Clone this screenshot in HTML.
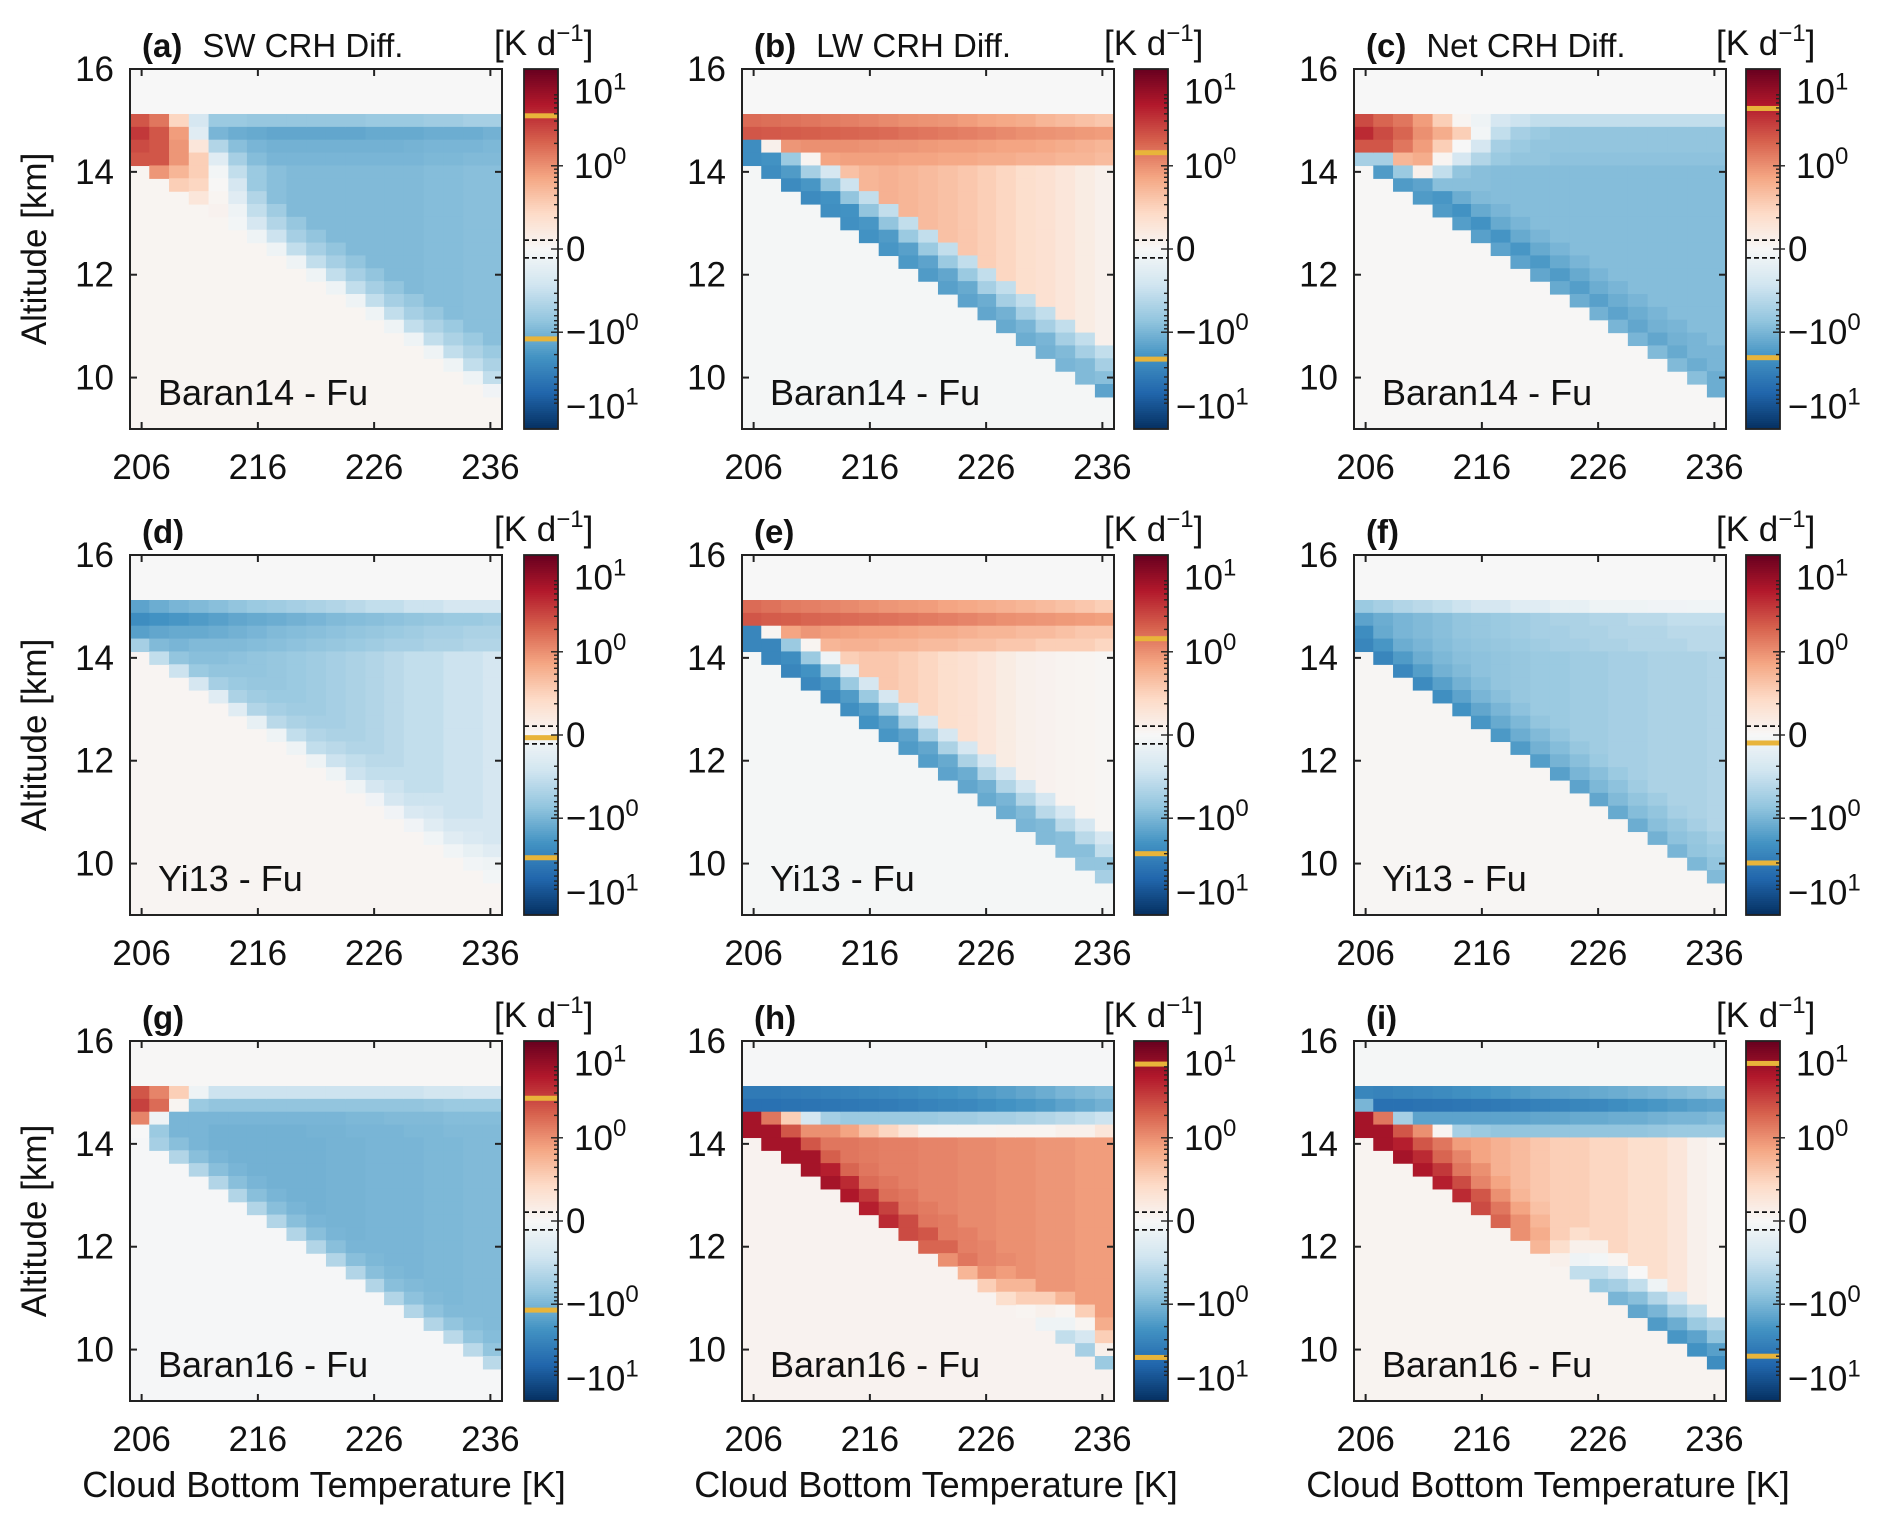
<!DOCTYPE html>
<html><head><meta charset="utf-8"><style>
html,body{margin:0;padding:0;background:#fff;}
svg{display:block;font-family:"Liberation Sans",Arial,sans-serif;}
</style></head><body>
<svg id="fig" width="1892" height="1524" viewBox="0 0 1892 1524" xmlns="http://www.w3.org/2000/svg"></svg>
<script>
// ---- data ----
const temps = [205.8,207.5,209.2,210.9,212.6,214.3,215.9,217.6,219.3,221.0,222.7,224.4,226.1,227.7,229.4,231.1,232.8,234.5,236.2];
const cloudBaseAlt = [14.125,13.875,13.625,13.375,13.125,12.875,12.625,12.375,12.125,11.875,11.625,11.375,11.125,10.875,10.625,10.375,10.125,9.875,9.625];
const cloudTopAlt = 15.125;
const rowDepth = 0.25;
const xTicks = [206,216,226,236];
const yTicks = [10,12,14,16];
const panelIds = ['a','b','c','d','e','f','g','h','i'];
const panelTitles = ['SW CRH Diff.','LW CRH Diff.','Net CRH Diff.','','','','','',''];
const schemeLabels = ['Baran14 - Fu','Yi13 - Fu','Baran16 - Fu'];
const aboveVals = [0.0,0.0,0.0,0.0,0.0,0.0,0.02,-0.02,-0.03];
const belowVals = [0.05,-0.03,0.02,0.04,-0.03,0.03,-0.02,0.07,0.06];
const markMax = [4.7,1.5,5.9,-0.03,1.5,-0.09,3.4,9.8,10];
const markMin = [-1.23,-2.3,-2.2,-3.4,-3.0,-4.0,-1.2,-5.2,-5.0];

const a_r0=[2.5,1.5,0.25,-0.2,-0.6,-0.6,-0.65,-0.65,-0.65,-0.65,-0.65,-0.65,-0.6,-0.6,-0.6,-0.55,-0.55,-0.5,-0.5];
const a_r1=[4,2.5,0.8,-0.15,-1.0,-1.2,-1.3,-1.4,-1.4,-1.4,-1.4,-1.4,-1.3,-1.3,-1.3,-1.2,-1.2,-1.2,-1.1];
const a_r2=[0,0,0,0.15,-0.4,-0.8,-1.0,-1.1,-1.1,-1.1,-1.1,-1.1,-1.1,-1.1,-1.05,-1.0,-1.0,-1.0,-0.95];
const a_r3=[0,0,0,0,-0.15,-0.5,-0.85,-1.0,-1.0,-1.0,-1.0,-1.0,-1.0,-1.0,-1.0,-0.95,-0.95,-0.9,-0.9];
const a_in=[0,0,0,0,0,-0.3,-0.6,-0.8,-0.9,-0.9,-0.9,-0.9,-0.9,-0.9,-0.9,-0.85,-0.85,-0.8,-0.8];
const a_e4=[0,0,0.9,0.3,-0.05,-0.2,-0.4,-0.55,-0.65,-0.7,-0.7,-0.7,-0.7,-0.7,-0.65,-0.65,-0.6,-0.6,-0.6];
const a_e3=[0,2.5,0.9,0.3,0.02,-0.15,-0.3,-0.4,-0.5,-0.5,-0.5,-0.5,-0.5,-0.5,-0.5,-0.45,-0.45,-0.45,-0.45];
const a_e2=[3,2.5,0.5,0.25,0.05,-0.1,-0.2,-0.25,-0.3,-0.3,-0.3,-0.3,-0.3,-0.3,-0.3,-0.3,-0.3,-0.3,-0.3];
const a_e=[2.5,0.9,0.3,0.15,0.08,-0.05,-0.1,-0.1,-0.1,-0.1,-0.1,-0.1,-0.1,-0.1,-0.1,-0.1,-0.1,-0.1,-0.08];

const b_r0=[1.8,1.7,1.6,1.5,1.4,1.3,1.2,1.1,1.0,0.95,0.9,0.8,0.7,0.65,0.6,0.5,0.45,0.4,0.35];
const b_r1=[2.5,2.4,2.3,2.2,2.1,2.0,1.9,1.8,1.6,1.5,1.4,1.3,1.2,1.1,1.0,0.95,0.9,0.85,0.8];
const b_r2=[0,0,0,1.0,1.0,1.0,0.95,0.9,0.9,0.85,0.8,0.8,0.75,0.7,0.7,0.65,0.6,0.55,0.5];
const b_r3=[0,0,0,0,0.7,0.75,0.75,0.75,0.7,0.7,0.65,0.65,0.6,0.6,0.55,0.55,0.5,0.5,0.45];
const b_in=[0,0,0,0,0,0.4,0.5,0.55,0.5,0.45,0.4,0.35,0.3,0.25,0.2,0.18,0.15,0.12,0.1];
const b_e4=[0,0,0.9,0.05,-0.2,-0.25,-0.3,-0.3,-0.3,-0.3,-0.3,-0.3,-0.3,-0.3,-0.3,-0.3,-0.3,-0.3,-0.3];
const b_e3=[0,0.1,-0.6,-0.5,-0.7,-0.7,-0.7,-0.7,-0.6,-0.6,-0.6,-0.6,-0.5,-0.5,-0.5,-0.5,-0.5,-0.5,-0.5];
const b_e2=[-2.5,-2.2,-1.8,-2.0,-2.2,-2.2,-2.0,-1.8,-1.6,-1.5,-1.4,-1.3,-1.2,-1.1,-1.0,-1.0,-0.9,-0.9,-0.8];
const b_e=[-2.5,-2.5,-2.6,-2.6,-2.4,-2.3,-2.2,-2.0,-1.9,-1.8,-1.6,-1.5,-1.4,-1.3,-1.2,-1.1,-1.0,-0.9,-1.5];

const c_r0=[3,2,1.5,0.8,0.3,0.05,-0.1,-0.2,-0.25,-0.3,-0.3,-0.3,-0.3,-0.3,-0.3,-0.3,-0.3,-0.3,-0.3];
const c_r1=[5,3,2,1,0.6,0.3,-0.05,-0.3,-0.5,-0.6,-0.7,-0.7,-0.7,-0.7,-0.7,-0.7,-0.7,-0.7,-0.7];
const c_r2=[0,0,0,0.8,0.3,0.0,-0.2,-0.5,-0.6,-0.7,-0.7,-0.7,-0.7,-0.7,-0.7,-0.7,-0.7,-0.7,-0.7];
const c_r3=[0,0,0,0,0.05,-0.2,-0.4,-0.6,-0.7,-0.7,-0.75,-0.75,-0.75,-0.75,-0.75,-0.75,-0.75,-0.75,-0.75];
const c_in=[0,0,0,0,0,-0.7,-0.8,-0.85,-0.85,-0.85,-0.85,-0.85,-0.85,-0.85,-0.85,-0.85,-0.85,-0.85,-0.85];
const c_e4=[0,0,1.5,0.6,-0.3,-0.8,-0.9,-1.0,-1.0,-1.0,-1.0,-1.0,-1.0,-1.0,-1.0,-1.0,-1.0,-1.0,-1.0];
const c_e3=[0,2.5,0.5,0.1,-0.8,-1.2,-1.3,-1.3,-1.3,-1.3,-1.3,-1.3,-1.2,-1.2,-1.2,-1.1,-1.1,-1.0,-1.0];
const c_e2=[2.5,-0.5,-0.6,-1.5,-2.0,-2.2,-2.2,-2.1,-2.0,-1.9,-1.8,-1.7,-1.6,-1.5,-1.4,-1.4,-1.3,-1.2,-1.2];
const c_e=[-0.5,-1.8,-1.8,-1.8,-1.8,-1.7,-1.6,-1.5,-1.5,-1.4,-1.3,-1.2,-1.1,-1.0,-1.0,-0.9,-0.9,-0.8,-1.2];

const d_r0=[-1.5,-1.2,-1.0,-0.9,-0.8,-0.7,-0.6,-0.55,-0.5,-0.45,-0.4,-0.35,-0.3,-0.3,-0.25,-0.25,-0.2,-0.2,-0.2];
const d_r1=[-2.5,-2.2,-2.0,-1.8,-1.6,-1.4,-1.3,-1.2,-1.1,-1.0,-0.9,-0.85,-0.8,-0.75,-0.7,-0.65,-0.6,-0.6,-0.55];
const d_r2=[0,0,0,-1.3,-1.2,-1.1,-1.0,-0.9,-0.85,-0.8,-0.75,-0.7,-0.65,-0.6,-0.55,-0.5,-0.5,-0.45,-0.45];
const d_r3=[0,0,0,0,-0.9,-0.9,-0.85,-0.8,-0.75,-0.7,-0.65,-0.6,-0.55,-0.5,-0.5,-0.45,-0.45,-0.4,-0.4];
const d_in=[0,0,0,0,0,-0.75,-0.7,-0.65,-0.6,-0.55,-0.5,-0.45,-0.4,-0.35,-0.3,-0.3,-0.25,-0.25,-0.2];
const d_e4=[0,0,-1.3,-0.9,-0.8,-0.7,-0.65,-0.6,-0.55,-0.5,-0.45,-0.4,-0.35,-0.3,-0.3,-0.25,-0.25,-0.2,-0.2];
const d_e3=[0,-1.4,-1.0,-0.8,-0.7,-0.6,-0.55,-0.5,-0.45,-0.4,-0.35,-0.3,-0.3,-0.25,-0.25,-0.2,-0.2,-0.18,-0.15];
const d_e2=[-1.6,-0.9,-0.7,-0.6,-0.5,-0.45,-0.4,-0.35,-0.3,-0.3,-0.25,-0.25,-0.2,-0.2,-0.18,-0.15,-0.15,-0.12,-0.1];
const d_e=[-0.5,-0.3,-0.25,-0.2,-0.15,-0.15,-0.12,-0.1,-0.1,-0.1,-0.1,-0.1,-0.08,-0.08,-0.08,-0.07,-0.07,-0.06,-0.05];

const e_r0=[1.8,1.6,1.4,1.3,1.2,1.1,1.0,0.9,0.85,0.8,0.7,0.65,0.6,0.55,0.5,0.45,0.4,0.35,0.3];
const e_r1=[2.5,2.3,2.2,2.0,1.9,1.8,1.7,1.6,1.5,1.4,1.3,1.2,1.1,1.0,0.95,0.9,0.85,0.8,0.75];
const e_r2=[0,0,0,0.9,0.8,0.75,0.7,0.7,0.65,0.6,0.6,0.55,0.5,0.5,0.45,0.45,0.4,0.35,0.35];
const e_r3=[0,0,0,0,0.5,0.55,0.55,0.5,0.5,0.45,0.45,0.4,0.4,0.35,0.35,0.3,0.3,0.3,0.25];
const e_in=[0,0,0,0,0,0.3,0.35,0.35,0.3,0.25,0.2,0.18,0.15,0.12,0.1,0.08,0.06,0.05,0.03];
const e_e4=[0,0,0.7,0.05,-0.1,-0.15,-0.2,-0.2,-0.2,-0.2,-0.2,-0.2,-0.2,-0.2,-0.2,-0.2,-0.2,-0.2,-0.2];
const e_e3=[0,0.05,-0.6,-0.6,-0.6,-0.6,-0.6,-0.55,-0.5,-0.5,-0.45,-0.45,-0.4,-0.4,-0.4,-0.35,-0.35,-0.35,-0.3];
const e_e2=[-3,-3,-2.5,-2.2,-2.0,-1.8,-1.7,-1.6,-1.5,-1.4,-1.3,-1.2,-1.1,-1.0,-0.9,-0.9,-0.8,-0.8,-0.7];
const e_e=[-3,-3,-3,-2.8,-2.6,-2.4,-2.2,-2.0,-1.8,-1.7,-1.5,-1.4,-1.3,-1.2,-1.0,-0.9,-0.8,-0.7,-0.5];

const f_r0=[-0.6,-0.5,-0.4,-0.35,-0.3,-0.25,-0.2,-0.2,-0.15,-0.15,-0.12,-0.12,-0.1,-0.1,-0.1,-0.08,-0.08,-0.07,-0.07];
const f_r1=[-1.5,-1.2,-1.0,-0.9,-0.8,-0.7,-0.65,-0.6,-0.55,-0.5,-0.45,-0.45,-0.4,-0.4,-0.35,-0.35,-0.3,-0.3,-0.3];
const f_r2=[0,0,0,-0.9,-0.8,-0.7,-0.65,-0.6,-0.55,-0.5,-0.5,-0.45,-0.45,-0.4,-0.4,-0.4,-0.35,-0.35,-0.35];
const f_r3=[0,0,0,0,-0.85,-0.75,-0.7,-0.65,-0.6,-0.55,-0.5,-0.5,-0.45,-0.45,-0.4,-0.4,-0.4,-0.35,-0.35];
const f_in=[0,0,0,0,0,-0.8,-0.75,-0.7,-0.65,-0.6,-0.6,-0.55,-0.55,-0.5,-0.5,-0.45,-0.45,-0.45,-0.4];
const f_e4=[0,0,-1.0,-1.0,-0.95,-0.9,-0.85,-0.8,-0.75,-0.7,-0.7,-0.65,-0.6,-0.6,-0.55,-0.55,-0.5,-0.5,-0.5];
const f_e3=[0,-1.3,-1.2,-1.2,-1.1,-1.1,-1.0,-1.0,-0.95,-0.9,-0.85,-0.8,-0.8,-0.75,-0.7,-0.7,-0.65,-0.65,-0.6];
const f_e2=[-2.5,-2.0,-1.8,-1.7,-1.6,-1.5,-1.4,-1.3,-1.2,-1.1,-1.05,-1.0,-0.95,-0.9,-0.85,-0.8,-0.75,-0.7,-0.7];
const f_e=[-3,-3,-2.8,-2.6,-2.4,-2.2,-2.0,-1.9,-1.8,-1.7,-1.6,-1.5,-1.4,-1.3,-1.2,-1.1,-1.0,-0.95,-0.9];

const g_r0=[2.5,1.2,0.3,-0.1,-0.25,-0.25,-0.25,-0.25,-0.25,-0.25,-0.25,-0.25,-0.25,-0.25,-0.25,-0.22,-0.22,-0.2,-0.2];
const g_r1=[3.5,1.8,0.05,-0.6,-0.7,-0.7,-0.7,-0.7,-0.7,-0.7,-0.7,-0.7,-0.7,-0.7,-0.7,-0.65,-0.6,-0.6,-0.6];
const g_r2=[0,0,0,-1.0,-1.0,-1.0,-1.0,-1.0,-1.0,-1.0,-1.0,-0.95,-0.95,-0.9,-0.9,-0.9,-0.85,-0.85,-0.85];
const g_r3=[0,0,0,0,-1.1,-1.1,-1.1,-1.1,-1.1,-1.05,-1.05,-1.0,-1.0,-1.0,-0.95,-0.95,-0.9,-0.9,-0.9];
const g_in=[0,0,0,0,0,-1.1,-1.1,-1.1,-1.1,-1.1,-1.05,-1.05,-1.0,-1.0,-1.0,-0.95,-0.95,-0.9,-0.9];
const g_e4=[0,0,-1.0,-1.0,-1.1,-1.1,-1.1,-1.1,-1.1,-1.1,-1.05,-1.05,-1.0,-1.0,-1.0,-0.95,-0.95,-0.9,-0.9];
const g_e3=[0,-0.1,-1.0,-1.0,-1.0,-1.0,-1.0,-1.0,-1.0,-1.0,-1.0,-1.0,-0.95,-0.95,-0.9,-0.9,-0.9,-0.85,-0.85];
const g_e2=[1.2,-0.6,-0.8,-0.8,-0.8,-0.8,-0.8,-0.8,-0.8,-0.8,-0.8,-0.8,-0.8,-0.8,-0.75,-0.75,-0.7,-0.7,-0.7];
const g_e=[0.0,-0.5,-0.4,-0.4,-0.4,-0.4,-0.4,-0.4,-0.4,-0.4,-0.4,-0.4,-0.4,-0.4,-0.4,-0.4,-0.35,-0.35,-0.35];

const h_r0=[-4,-4,-3.8,-3.6,-3.4,-3.2,-3,-2.8,-2.6,-2.4,-2.2,-2,-1.8,-1.6,-1.4,-1.2,-1,-0.9,-0.8];
const h_r1=[-5,-5,-4.8,-4.6,-4.4,-4.2,-4,-3.8,-3.5,-3.2,-3,-2.8,-2.5,-2.2,-2,-1.8,-1.5,-1.3,-1.1];
const h_r2=[0,0,0,-0.2,-0.5,-0.6,-0.6,-0.6,-0.6,-0.6,-0.55,-0.55,-0.5,-0.5,-0.45,-0.4,-0.35,-0.3,-0.25];
const h_r3=[0,0,0,0,1.0,0.7,0.4,0.25,0.15,0.05,0.03,0.03,0.03,0.05,0.05,0.05,0.1,0.1,0.15];
const h_in=[0,0,0,0,0,1.5,1.4,1.3,1.3,1.2,1.2,1.1,1.1,1.0,1.0,0.9,0.9,0.8,0.8];
const h_e4=[0,0,0.3,1.0,1.5,1.5,1.5,1.5,1.5,1.4,1.4,1.3,1.2,1.1,1.0,0.9,0.5,0.3,0.6];
const h_e3=[0,1.5,2.5,2.5,2.2,2.0,1.8,1.7,1.6,1.5,1.4,1.3,1.2,0.8,0.5,0.3,0.05,0.05,0.3];
const h_e2=[8,8,8,8,6,5,4,3.5,3,2.5,2,1.5,1.0,0.5,0.3,0.1,-0.1,-0.2,0.1];
const h_e=[8,8,8,8,8,7,6,5,3,2,1,0.5,0.3,0.2,0.05,-0.1,-0.3,-0.5,-0.6];

const i_r0=[-3,-3.2,-3,-2.8,-2.6,-2.4,-2.2,-2.0,-1.8,-1.6,-1.5,-1.4,-1.3,-1.2,-1.1,-1.0,-0.9,-0.8,-0.7];
const i_r1=[-1.0,-5,-5,-4.8,-4.6,-4.4,-4.2,-4,-3.7,-3.4,-3.2,-3,-2.8,-2.5,-2.2,-2,-1.8,-1.6,-1.5];
const i_r2=[0,0,0,-1.5,-1.5,-1.5,-1.5,-1.5,-1.5,-1.4,-1.4,-1.3,-1.3,-1.2,-1.2,-1.1,-1.0,-1.0,-0.9];
const i_r3=[0,0,0,0,0.05,-0.5,-0.6,-0.7,-0.7,-0.7,-0.7,-0.7,-0.7,-0.7,-0.7,-0.65,-0.6,-0.6,-0.6];
const i_in=[0,0,0,0,0,0.8,0.7,0.55,0.45,0.35,0.3,0.3,0.25,0.25,0.2,0.2,0.15,0.1,0.05];
const i_e4=[0,0,-0.5,1.0,1.5,1.2,1.0,0.7,0.5,0.4,0.3,0.2,0.1,0.05,0.0,-0.1,-0.2,-0.3,-0.4];
const i_e3=[0,1.5,2.5,2.5,2.0,1.5,1.2,1.0,0.7,0.5,0.3,0.1,-0.05,-0.2,-0.3,-0.4,-0.5,-0.6,-0.7];
const i_e2=[8,8,6,5,4,3,2.5,1.5,1.0,0.6,0.2,-0.1,-0.3,-0.5,-0.8,-1.0,-1.2,-1.5,-1.6];
const i_e=[8,8,8,7,6,5,3,2,1,0.5,0.1,-0.3,-0.6,-1.0,-1.4,-1.8,-2.0,-2.2,-2.5];

const panelData = [
 [a_r0,a_r1,a_r2,a_r3,a_in,a_e4,a_e3,a_e2,a_e],
 [b_r0,b_r1,b_r2,b_r3,b_in,b_e4,b_e3,b_e2,b_e],
 [c_r0,c_r1,c_r2,c_r3,c_in,c_e4,c_e3,c_e2,c_e],
 [d_r0,d_r1,d_r2,d_r3,d_in,d_e4,d_e3,d_e2,d_e],
 [e_r0,e_r1,e_r2,e_r3,e_in,e_e4,e_e3,e_e2,e_e],
 [f_r0,f_r1,f_r2,f_r3,f_in,f_e4,f_e3,f_e2,f_e],
 [g_r0,g_r1,g_r2,g_r3,g_in,g_e4,g_e3,g_e2,g_e],
 [h_r0,h_r1,h_r2,h_r3,h_in,h_e4,h_e3,h_e2,h_e],
 [i_r0,i_r1,i_r2,i_r3,i_in,i_e4,i_e3,i_e2,i_e]
];

// ---- rendering ----
const NS='http://www.w3.org/2000/svg';
const svg=document.getElementById('fig');
function mk(tag,attrs,parent){const el=document.createElementNS(NS,tag);for(const k in attrs)el.setAttribute(k,attrs[k]);(parent||svg).appendChild(el);return el;}
const stops=['#053061','#2166ac','#4393c3','#92c5de','#d1e5f0','#f7f7f7','#fddbc7','#f4a582','#d6604d','#b2182b','#67001f'].map(h=>[parseInt(h.slice(1,3),16),parseInt(h.slice(3,5),16),parseInt(h.slice(5,7),16)]);
function cmap(t){t=Math.max(0,Math.min(1,t));const p=t*10;const i=Math.min(9,Math.floor(p));const f=p-i;const a=stops[i],b=stops[i+1];
 return 'rgb('+[0,1,2].map(k=>Math.round(a[k]+(b[k]-a[k])*f)).join(',')+')';}
function symlog(v){const a=Math.abs(v);const s=a<=0.1?a/0.1*7.5:7.5+63*Math.log10(a/0.1);return Math.sign(v)*s;}
function norm(v){return 0.5+symlog(v)/305;}

const PW=372,PH=360,CBW=34;
const colL=[130,742,1354], cbL=[524,1134,1746], rowT=[69,555,1041];
const X0=205,X1=237,Y0=9,Y1=16;
const cellW=(X1-X0)/temps.length;
const FS=35;

panelIds.forEach((pid,p)=>{
 const col=p%3,row=Math.floor(p/3);
 const L=colL[col],T=rowT[row],CB=cbL[col];
 const xs=t=>L+(t-X0)/(X1-X0)*PW;
 const ys=z=>T+(Y1-z)/(Y1-Y0)*PH;
 const g=mk('g',{});
 
 
 const bg=mk('rect',{x:L,y:T,width:PW,height:PH,fill:cmap(norm(belowVals[p]))},g);
 
 
 const ab=mk('rect',{x:L,y:T,width:PW,height:ys(cloudTopAlt)-T,fill:cmap(norm(aboveVals[p]))},g);
 
 
 const D=panelData[p];
 temps.forEach((tc,ci)=>{
  const n=Math.round((cloudTopAlt-cloudBaseAlt[ci])/rowDepth);
  for(let j=0;j<n;j++){
   let v;
   if(j===0)v=D[0][ci];else if(j===1)v=D[1][ci];
   else if(j===n-1)v=D[8][ci];else if(j===n-2)v=D[7][ci];
   else if(j===n-3)v=D[6][ci];else if(j===n-4)v=D[5][ci];
   else if(j===2)v=D[2][ci];else if(j===3)v=D[3][ci];else v=D[4][ci];
   const zt=cloudTopAlt-j*rowDepth;
   const x0=xs(tc-cellW/2),x1=Math.min(xs(tc+cellW/2),L+PW);
   const c=mk('rect',{x:x0.toFixed(2),y:ys(zt).toFixed(2),width:(x1-x0+0.6).toFixed(2),height:(ys(zt-rowDepth)-ys(zt)+0.6).toFixed(2),fill:cmap(norm(v))},g);
   
   
  }
 });
 const fr=mk('rect',{x:L,y:T,width:PW,height:PH,fill:'none',stroke:'#222',"stroke-width":2},g);
 
 
 xTicks.forEach(t=>{
  const x=xs(t);
  mk('line',{x1:x,x2:x,y1:T+PH,y2:T+PH-7,stroke:'#222','stroke-width':2},g);
  mk('line',{x1:x,x2:x,y1:T,y2:T+7,stroke:'#222','stroke-width':2},g);
  const tl=mk('text',{x:x,y:T+PH+50,'font-size':FS,'text-anchor':'middle',fill:'#111'},g);
  tl.textContent=t;
  
  
 });
 yTicks.forEach(z=>{
  const y=ys(z);
  mk('line',{x1:L,x2:L+7,y1:y,y2:y,stroke:'#222','stroke-width':2},g);
  mk('line',{x1:L+PW,x2:L+PW-7,y1:y,y2:y,stroke:'#222','stroke-width':2},g);
  const tl=mk('text',{x:L-16,y:y+12,'font-size':FS,'text-anchor':'end',fill:'#111'},g);
  tl.textContent=z;
  
  
 });
 const pl=mk('text',{x:L+12,y:T-12,'font-size':33,fill:'#111'},g);
 const b=mk('tspan',{'font-weight':'bold'},pl);b.textContent='('+pid+')';
 if(panelTitles[p]){const s=mk('tspan',{dx:20},pl);s.textContent=panelTitles[p];}
 
 
 const sl=mk('text',{x:L+28,y:T+PH-24,'font-size':36,fill:'#111'},g);
 sl.textContent=schemeLabels[row];
 
 
 // colorbar
 const cb=mk('g',{},g);
 
 
 const N=180;
 for(let k=0;k<N;k++){mk('rect',{x:CB,y:(T+k*PH/N).toFixed(2),width:CBW,height:(PH/N+0.6).toFixed(2),fill:cmap(1-(k+0.5)/N)},cb);}
 const cy=v=>T+(1-norm(v))*PH;
 [0.1,-0.1].forEach(v=>{mk('line',{x1:CB,x2:CB+CBW,y1:cy(v),y2:cy(v),stroke:'#111','stroke-width':1.8,'stroke-dasharray':'5,3'},cb);});
 [markMax[p],markMin[p]].forEach(v=>{
  const m=mk('rect',{x:CB,y:cy(v)-2.5,width:CBW,height:5,fill:'#e8b43a'},cb);
  
  
 });
 mk('rect',{x:CB,y:T,width:CBW,height:PH,fill:'none',stroke:'#222','stroke-width':1.8},cb);
 [1,10].forEach(dec=>{for(let m=1;m<=9;m++){const v=m*dec/10;if(v<0.2)continue;[v,-v].forEach(s=>{
   const y=cy(s);const maj=(m===1);
   mk('line',{x1:CB+CBW-(maj?7:4),x2:CB+CBW+(maj?5:0),y1:y,y2:y,stroke:'#222','stroke-width':1.4},cb);});}});
 mk('line',{x1:CB+CBW-7,x2:CB+CBW+5,y1:cy(0),y2:cy(0),stroke:'#222','stroke-width':1.4},cb);
 const cbl=[[10,'','1'],[1,'','0'],[0,'0',''],[-1,'\u2212','0'],[-10,'\u2212','1']];
 cbl.forEach(([v,pre,ex])=>{
  const t=mk('text',{x:CB+CBW+(v>0?16:8),y:cy(v)+12,'font-size':FS,fill:'#111'},cb);
  if(v===0){t.textContent='0';}
  else{const a=mk('tspan',{},t);a.textContent=pre+'10';const s=mk('tspan',{dy:-14,'font-size':24},t);s.textContent=ex;}
  
  
 });
 const u=mk('text',{x:CB-30,y:T-14,'font-size':FS,fill:'#111'},cb);
 const u1=mk('tspan',{},u);u1.textContent='[K d';
 const u2=mk('tspan',{dy:-14,'font-size':24},u);u2.textContent='\u22121';
 const u3=mk('tspan',{dy:14},u);u3.textContent=']';
 
 
 if(col===0){
  const yl=mk('text',{x:0,y:0,'font-size':35,'text-anchor':'middle',fill:'#111',transform:'translate(46,'+(T+PH/2)+') rotate(-90)'},g);
  yl.textContent='Altitude [km]';
  
  
 }
 if(row===2){
  const xl=mk('text',{x:L+PW/2+8,y:1497,'font-size':36,'text-anchor':'middle',fill:'#111'},g);
  xl.textContent='Cloud Bottom Temperature [K]';
  
  
 }
});
</script>
</body></html>
